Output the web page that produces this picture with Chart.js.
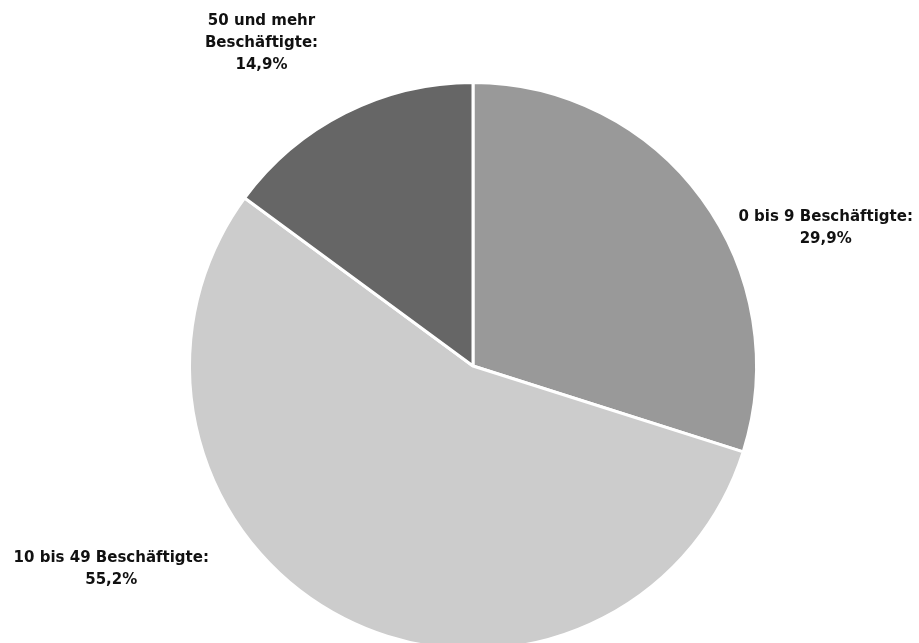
<!DOCTYPE html>
<html>
<head>
<meta charset="utf-8">
<script src="https://cdn.jsdelivr.net/npm/chart.js@4"></script>
<style>
  html, body { margin: 0; padding: 0; background: #fff; overflow: hidden; }
  #wrap { width: 919px; height: 700px; position: relative; }
</style>
</head>
<body>
<div id="wrap"><canvas id="pieChart"></canvas></div>
<script>
const categories = ['0 bis 9 Beschäftigte:', '10 bis 49 Beschäftigte:', '50 und mehr|Beschäftigte:'];
const shares = [29.9, 55.2, 14.9];
const colors = ['#999999', '#cccccc', '#666666'];

// label centre relative to pie centre, in units of the radius
const labelOffsets = [[1.244, -0.488], [-1.276, 0.717], [-0.746, -1.138]];

const fmt = v => v.toFixed(1).replace('.', ',') + '%';

const pieLabels = {
    id: 'pieLabels',
    afterDraw(chart) {
        const ctx = chart.ctx;
        const arcs = chart.getDatasetMeta(0).data;
        ctx.save();
        ctx.font = 'bold 15px "DejaVu Sans"';
        ctx.fillStyle = '#111';
        ctx.textAlign = 'center';
        ctx.textBaseline = 'middle';
        arcs.forEach((arc, i) => {
            const lines = categories[i].split('|').concat(fmt(shares[i]));
            const cx = arc.x + labelOffsets[i][0] * arc.outerRadius;
            const cy = arc.y + labelOffsets[i][1] * arc.outerRadius;
            const lh = 22;
            const top = cy - (lines.length - 1) * lh / 2;
            lines.forEach((t, j) => ctx.fillText(t, cx, top + j * lh));
        });
        ctx.restore();
    }
};

new Chart(document.getElementById('pieChart'), {
    type: 'pie',
    data: {
        labels: categories.map(c => c.replace('|', ' ')),
        datasets: [{
            data: shares,
            backgroundColor: colors,
            borderColor: '#ffffff',
            borderWidth: 3
        }]
    },
    options: {
        responsive: true,
        maintainAspectRatio: false,
        animation: false,
        layout: { padding: { top: 81, bottom: 49, left: 188, right: 161 } },
        plugins: {
            legend: { display: false },
            tooltip: { enabled: false }
        }
    },
    plugins: [pieLabels]
});
</script>
</body>
</html>
